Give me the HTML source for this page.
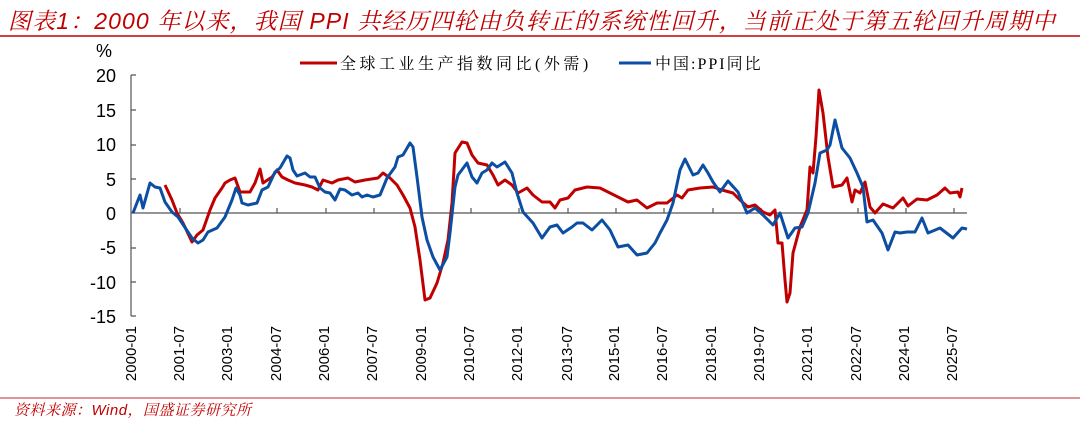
<!DOCTYPE html>
<html><head><meta charset="utf-8"><style>
body{margin:0;background:#fff;}
</style></head><body>
<svg width="1080" height="426" xmlns="http://www.w3.org/2000/svg" style="display:block">
<text x="8" y="29" fill="#C00000" font-size="23" font-style="italic" letter-spacing="1.1" font-family="Liberation Sans, Noto Serif CJK SC, serif">图表1：2000 年以来，我国 PPI 共经历四轮由负转正的系统性回升，当前正处于第五轮回升周期中</text>
<line x1="0" y1="36" x2="1080" y2="36" stroke="#C00000" stroke-width="1.5"/>
<g font-family="Liberation Sans, sans-serif" font-size="18" fill="#000" text-anchor="end">
<text x="104" y="57" text-anchor="middle">%</text>
<text x="116" y="82">20</text><text x="116" y="117">15</text><text x="116" y="151">10</text>
<text x="116" y="186">5</text><text x="116" y="220">0</text><text x="116" y="254">-5</text>
<text x="116" y="289">-10</text><text x="116" y="323">-15</text>
</g>
<g stroke="#555" stroke-width="1.2" fill="none">
<line x1="131" y1="75" x2="131" y2="316"/>
<path d="M131 75h5M131 110h5M131 145h5M131 179h5M131 248h5M131 282h5M131 316h5"/>
<line x1="131" y1="213" x2="967" y2="213"/>
</g>
<g stroke="#555" stroke-width="1.2">
<line x1="180" y1="213" x2="180" y2="208"/><line x1="228" y1="213" x2="228" y2="208"/><line x1="277" y1="213" x2="277" y2="208"/><line x1="326" y1="213" x2="326" y2="208"/><line x1="374" y1="213" x2="374" y2="208"/><line x1="422" y1="213" x2="422" y2="208"/><line x1="471" y1="213" x2="471" y2="208"/><line x1="519" y1="213" x2="519" y2="208"/><line x1="568" y1="213" x2="568" y2="208"/><line x1="616" y1="213" x2="616" y2="208"/><line x1="664" y1="213" x2="664" y2="208"/><line x1="713" y1="213" x2="713" y2="208"/><line x1="761" y1="213" x2="761" y2="208"/><line x1="809" y1="213" x2="809" y2="208"/><line x1="858" y1="213" x2="858" y2="208"/><line x1="906" y1="213" x2="906" y2="208"/><line x1="954" y1="213" x2="954" y2="208"/>
</g>
<g font-family="Liberation Sans, sans-serif" font-size="15" fill="#000" text-anchor="end">
<text transform="translate(136,326) rotate(-90)">2000-01</text>
<text transform="translate(184,326) rotate(-90)">2001-07</text>
<text transform="translate(232,326) rotate(-90)">2003-01</text>
<text transform="translate(281,326) rotate(-90)">2004-07</text>
<text transform="translate(329,326) rotate(-90)">2006-01</text>
<text transform="translate(377,326) rotate(-90)">2007-07</text>
<text transform="translate(426,326) rotate(-90)">2009-01</text>
<text transform="translate(474,326) rotate(-90)">2010-07</text>
<text transform="translate(522,326) rotate(-90)">2012-01</text>
<text transform="translate(572,326) rotate(-90)">2013-07</text>
<text transform="translate(619,326) rotate(-90)">2015-01</text>
<text transform="translate(667,326) rotate(-90)">2016-07</text>
<text transform="translate(716,326) rotate(-90)">2018-01</text>
<text transform="translate(764,326) rotate(-90)">2019-07</text>
<text transform="translate(812,326) rotate(-90)">2021-01</text>
<text transform="translate(861,326) rotate(-90)">2022-07</text>
<text transform="translate(909,326) rotate(-90)">2024-01</text>
<text transform="translate(957,326) rotate(-90)">2025-07</text>
</g>
<g fill="none" stroke-width="3" stroke-linejoin="round">
<polyline stroke="#C00000" points="165,185 172,200 177,213 183,223 192,242 197,235 203,230 210,210 215,198 222,188 225,183 230,180 235,178 240,192 250,192 255,183 260,169 263,183 272,177 277,170 282,177 288,180 295,183 305,185 312,187 318,190 323,180 332,183 338,180 348,178 355,182 365,180 378,178 383,173 390,178 397,185 403,195 410,208 415,227 420,260 425,300 430,298 437,283 443,263 448,240 452,203 455,153 462,142 467,143 472,155 478,163 487,165 493,175 498,185 505,180 512,185 518,193 527,188 533,195 542,202 550,202 555,208 560,200 568,198 575,190 587,187 600,188 610,193 620,198 628,202 637,200 647,208 657,203 667,203 677,195 682,198 688,190 700,188 713,187 722,190 733,193 740,200 748,207 755,205 763,212 770,215 775,210 778,243 782,243 785,280 787,302 790,293 793,253 800,227 807,210 810,167 813,173 816,137 819,90 823,113 828,157 833,187 842,185 847,178 852,202 855,190 860,193 865,182 870,207 875,213 883,204 893,208 903,198 908,206 917,199 927,200 937,195 945,188 950,193 958,192 960,197 962,188"/>
<polyline stroke="#0B4EA2" points="133,213 140,195 143,208 150,183 155,187 160,188 165,202 172,212 178,217 192,238 198,243 203,240 208,232 217,228 225,217 232,200 236,188 240,195 242,203 248,205 257,203 262,190 268,187 275,172 280,168 287,156 290,158 293,170 297,176 305,173 310,177 315,177 320,188 325,192 330,193 335,200 340,189 345,190 352,195 358,193 362,197 367,195 373,197 380,195 387,178 395,167 398,157 403,155 410,143 413,147 417,177 422,217 427,240 433,257 440,270 447,257 450,233 455,187 458,175 467,163 472,177 477,183 482,173 487,170 492,163 497,167 505,162 512,173 517,193 523,212 533,223 542,238 550,227 557,225 563,233 572,227 577,223 583,223 592,230 602,220 610,230 618,247 628,245 637,255 647,253 655,243 660,233 667,220 673,203 680,170 685,159 693,175 698,173 703,165 708,173 713,182 720,192 728,181 738,192 747,213 755,208 763,215 773,225 780,213 788,238 795,228 802,227 808,213 815,183 820,153 827,150 830,145 835,120 842,148 850,158 857,173 863,187 867,222 873,220 882,233 888,250 895,232 900,233 907,232 915,232 922,218 928,233 940,228 953,238 962,228 967,229"/>
</g>
<line x1="300" y1="63" x2="337" y2="63" stroke="#C00000" stroke-width="3"/>
<text x="340" y="69" font-size="16" letter-spacing="3.5" font-family="Liberation Serif, Noto Serif CJK SC, serif" fill="#000">全球工业生产指数同比(外需)</text>
<line x1="619" y1="63" x2="651" y2="63" stroke="#0B4EA2" stroke-width="3"/>
<text x="655" y="69" font-size="16" letter-spacing="2" font-family="Liberation Serif, Noto Serif CJK SC, serif" fill="#000">中国:PPI同比</text>
<line x1="0" y1="398" x2="1080" y2="398" stroke="#D9707A" stroke-width="1.5"/>
<text x="14" y="415" font-size="15" font-style="italic" letter-spacing="0.5" fill="#C00000" font-family="Liberation Sans, Noto Serif CJK SC, serif">资料来源：Wind，国盛证券研究所</text>
</svg>
</body></html>
